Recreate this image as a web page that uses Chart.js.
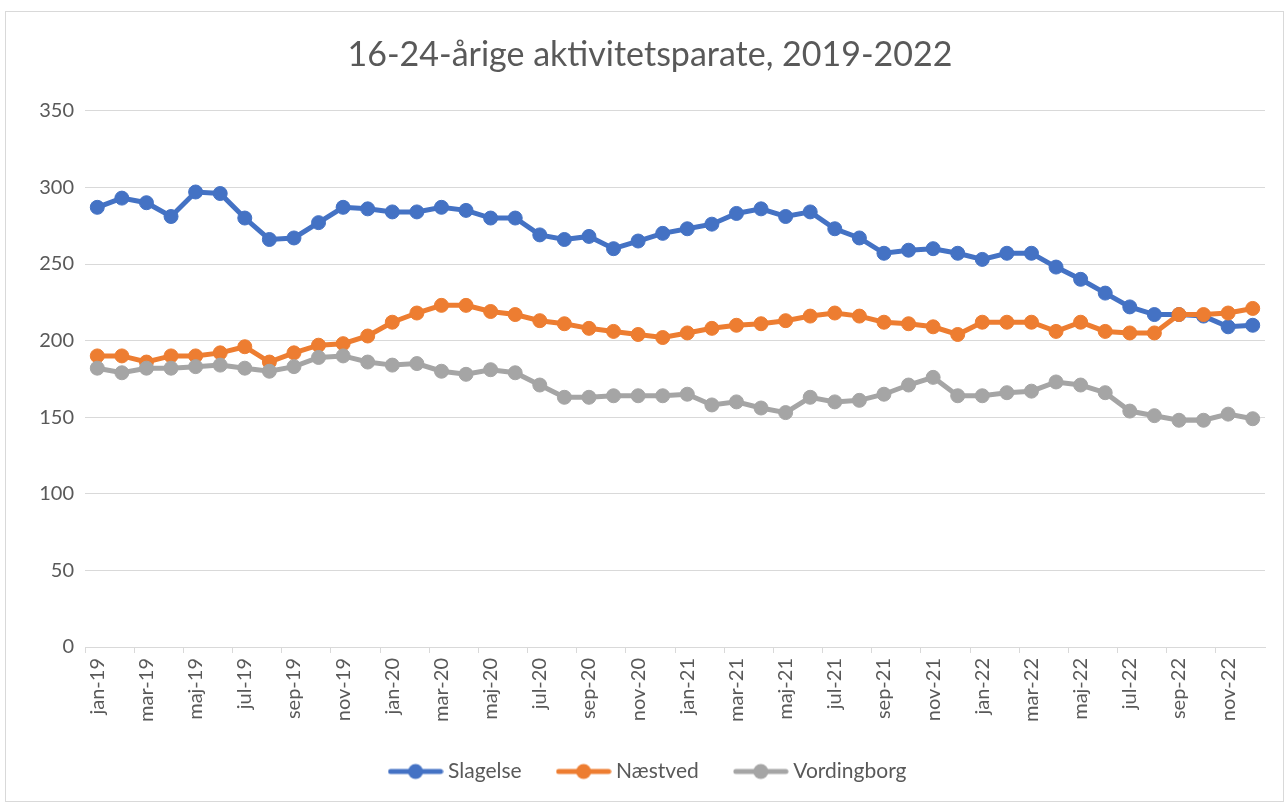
<!DOCTYPE html>
<html>
<head>
<meta charset="utf-8">
<script src="https://cdn.jsdelivr.net/npm/chart.js@4"></script>
<style>
    body { margin: 0; background: #fff; }
    #frame { position: absolute; left: 5px; top: 11px; width: 1277px; height: 789px; border: 1px solid #d9d9d9; }
    #wrap { position: absolute; left: 0; top: 0; width: 1287px; height: 805px; }
</style>
</head>
<body>
<div id="frame"></div>
<div id="wrap"><canvas id="lineChart"></canvas></div>
<script>
// data
const months = ['jan', 'feb', 'mar', 'apr', 'maj', 'jun', 'jul', 'aug', 'sep', 'okt', 'nov', 'dec'];
const years = ['19', '20', '21', '22'];

const slagelse = [
    287, 293, 290, 281, 297, 296, 280, 266, 267, 277, 287, 286,
    284, 284, 287, 285, 280, 280, 269, 266, 268, 260, 265, 270,
    273, 276, 283, 286, 281, 284, 273, 267, 257, 259, 260, 257,
    253, 257, 257, 248, 240, 231, 222, 217, 217, 216, 209, 210,
];
const naestved = [
    190, 190, 186, 190, 190, 192, 196, 186, 192, 197, 198, 203,
    212, 218, 223, 223, 219, 217, 213, 211, 208, 206, 204, 202,
    205, 208, 210, 211, 213, 216, 218, 216, 212, 211, 209, 204,
    212, 212, 212, 206, 212, 206, 205, 205, 217, 217, 218, 221,
];
const vordingborg = [
    182, 179, 182, 182, 183, 184, 182, 180, 183, 189, 190, 186,
    184, 185, 180, 178, 181, 179, 171, 163, 163, 164, 164, 164,
    165, 158, 160, 156, 153, 163, 160, 161, 165, 171, 176, 164,
    164, 166, 167, 173, 171, 166, 154, 151, 148, 148, 152, 149,
];

const seriesNames = ['Slagelse', 'Næstved', 'Vordingborg'];
const seriesColors = ['#4472C4', '#ED7D31', '#A5A5A5'];
const yTicks = [0, 50, 100, 150, 200, 250, 300, 350];

const categories = [];
years.forEach((y) => months.forEach((m) => categories.push(m + '-' + y)));

const textColor = '#595959';
const gridColor = '#d9d9d9';
const fontFamily = 'Lato, "Open Sans", sans-serif';

// small line + dot used as the legend symbol
const legendIcon = (color) => {
    const c = document.createElement('canvas');
    c.width = 56;
    c.height = 18;
    const g = c.getContext('2d');
    g.strokeStyle = color;
    g.lineWidth = 5;
    g.lineCap = 'round';
    g.beginPath();
    g.moveTo(3, 9);
    g.lineTo(53, 9);
    g.stroke();
    g.fillStyle = color;
    g.beginPath();
    g.arc(28, 9, 7.5, 0, Math.PI * 2);
    g.fill();
    return c;
};

const makeDataset = (label, data, color, order) => ({
    label: label,
    data: data,
    borderColor: color,
    backgroundColor: color,
    pointBackgroundColor: color,
    pointBorderColor: color,
    borderWidth: 5,
    pointRadius: 7,
    pointHoverRadius: 7,
    pointBorderWidth: 1,
    tension: 0,
    order: order,
});

const ctx = document.getElementById('lineChart').getContext('2d');
new Chart(ctx, {
    type: 'line',
    data: {
        labels: categories,
        datasets: [
            makeDataset(seriesNames[0], slagelse, seriesColors[0], 3),
            makeDataset(seriesNames[1], naestved, seriesColors[1], 2),
            makeDataset(seriesNames[2], vordingborg, seriesColors[2], 1),
        ],
    },
    options: {
        responsive: true,
        maintainAspectRatio: false,
        animation: false,
        layout: {
            padding: { left: 35, right: 22, top: 0, bottom: 13 },
        },
        plugins: {
            title: {
                display: true,
                text: '16-24-årige aktivitetsparate, 2019-2022',
                color: textColor,
                font: { family: fontFamily, size: 34, weight: 'normal' },
                padding: { top: 35, bottom: 35 },
            },
            legend: {
                position: 'bottom',
                labels: {
                    color: textColor,
                    font: { family: fontFamily, size: 21 },
                    usePointStyle: true,
                    pointStyleWidth: 44,
                    boxHeight: 16,
                    padding: 40,
                    generateLabels: (chart) => chart.data.datasets.map((ds, i) => ({
                        text: ds.label,
                        fillStyle: ds.borderColor,
                        strokeStyle: ds.borderColor,
                        lineWidth: 0,
                        pointStyle: legendIcon(ds.borderColor),
                        hidden: !chart.isDatasetVisible(i),
                        datasetIndex: i,
                        fontColor: textColor,
                    })),
                },
            },
            tooltip: { enabled: false },
        },
        scales: {
            x: {
                offset: true,
                grid: {
                    offset: true,
                    drawOnChartArea: false,
                    drawTicks: true,
                    tickLength: 6,
                    tickColor: (c) => (c.index % 2 === 0 ? gridColor : 'rgba(0,0,0,0)'),
                },
                border: { display: true, color: gridColor, width: 1 },
                ticks: {
                    autoSkip: false,
                    maxRotation: 90,
                    minRotation: 90,
                    padding: 5,
                    color: textColor,
                    font: { family: fontFamily, size: 20 },
                    callback: (value, index) => (index % 2 === 0 ? categories[index] : ''),
                },
                afterFit: (scale) => {
                    scale.height = 74;
                },
            },
            y: {
                min: 0,
                max: 350,
                afterBuildTicks: (scale) => {
                    scale.ticks = yTicks.map((v) => ({ value: v }));
                },
                grid: { color: gridColor, lineWidth: 1, drawTicks: false },
                border: { display: false },
                ticks: {
                    padding: 11,
                    color: textColor,
                    font: { family: fontFamily, size: 20 },
                },
                afterFit: (scale) => {
                    scale.width = 50;
                },
            },
        },
    },
});
</script>
</body>
</html>
